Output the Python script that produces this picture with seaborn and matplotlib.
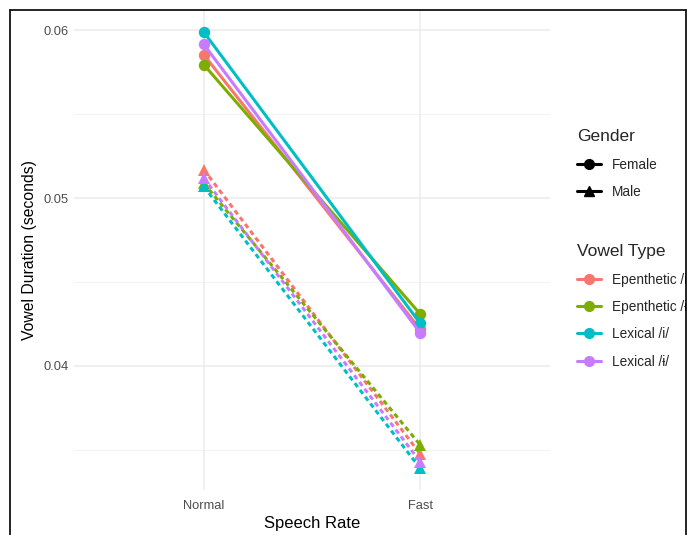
import pandas as pd
import matplotlib.pyplot as plt
import seaborn as sns
from matplotlib.lines import Line2D
from matplotlib.patches import Rectangle

# values
rates = ['Normal', 'Fast']
vowels = ['Epenthetic /i/', 'Epenthetic /ɨ/', 'Lexical /i/', 'Lexical /ɨ/']
genders = ['Female', 'Male']
female_normal = [0.05855, 0.05796, 0.05990, 0.05917]
female_fast = [0.04218, 0.04310, 0.04254, 0.04198]
male_normal = [0.05170, 0.05090, 0.05070, 0.05120]
male_fast = [0.03476, 0.03530, 0.03390, 0.03430]
colors = ['#F8766D', '#7CAE00', '#00BFC4', '#C77CFF']

rows = []
for i, v in enumerate(vowels):
    rows.append(('Normal', v, 'Female', female_normal[i]))
    rows.append(('Fast', v, 'Female', female_fast[i]))
    rows.append(('Normal', v, 'Male', male_normal[i]))
    rows.append(('Fast', v, 'Male', male_fast[i]))
df = pd.DataFrame(rows, columns=['rate', 'vowel', 'gender', 'dur'])

sns.set_theme(style='white')
plt.rcParams['font.family'] = ['Liberation Sans', 'DejaVu Sans']

fig = plt.figure(figsize=(6.9, 5.35), dpi=100)
ax = fig.add_axes([0.107, 0.084, 0.69, 0.897])

sns.lineplot(data=df, x='rate', y='dur', hue='vowel', style='gender',
             hue_order=vowels, style_order=genders, palette=colors,
             markers={'Female': 'o', 'Male': '^'},
             dashes={'Female': '', 'Male': (1.6, 1.2)},
             markersize=8.2, markeredgewidth=0, linewidth=2.2,
             legend=False, ax=ax, sort=False)

ax.set_xlim(-0.6, 1.6)
ax.set_ylim(0.0326, 0.0612)
ax.set_yticks([0.04, 0.05, 0.06])
ax.set_yticklabels(['0.04', '0.05', '0.06'])
ax.set_yticks([0.035, 0.045, 0.055], minor=True)
ax.grid(True, which='major', color='#EBEBEB', linewidth=1.1)
ax.grid(True, which='minor', axis='y', color='#F2F2F2', linewidth=0.7)
ax.set_axisbelow(True)
for s in ax.spines.values():
    s.set_visible(False)
ax.tick_params(axis='both', which='both', length=0, labelsize=9.3,
               labelcolor='#4D4D4D')
ax.tick_params(axis='x', pad=7)
ax.tick_params(axis='y', pad=4)
ax.set_xlabel('Speech Rate', fontsize=12, color='black', labelpad=3)
ax.set_ylabel('Vowel Duration (seconds)', fontsize=11.3, color='black', labelpad=4)

# legends
lfs = 9.8
g_handles = [Line2D([], [], color='black', marker=m, markersize=7, linewidth=2.2)
             for m in ['o', '^']]
leg1 = ax.legend(g_handles, genders, title='Gender', loc='upper left',
                 bbox_to_anchor=(0.836, 0.7585), bbox_transform=fig.transFigure,
                 frameon=False, fontsize=lfs, title_fontsize=12.5,
                 handlelength=1.76, handletextpad=0.8, labelspacing=0.98,
                 borderpad=0, borderaxespad=0)
leg1._legend_box.align = 'left'
ax.add_artist(leg1)

v_handles = [Line2D([], [], color=c, marker='o', markersize=7, linewidth=2.2)
             for c in colors]
leg2 = ax.legend(v_handles, vowels, title='Vowel Type', loc='upper left',
                 bbox_to_anchor=(0.836, 0.5435), bbox_transform=fig.transFigure,
                 frameon=False, fontsize=lfs, title_fontsize=12.5,
                 handlelength=1.76, handletextpad=0.8, labelspacing=0.98,
                 borderpad=0, borderaxespad=0)
leg2._legend_box.align = 'left'

# screenshot frame: clip at the right edge
fig.add_artist(Rectangle((686 / 690, 0), 4 / 690, 1, transform=fig.transFigure,
                         facecolor='white', edgecolor='none', zorder=10))
fig.add_artist(Line2D([10 / 690, 10 / 690], [0, 1 - 10 / 535], color='black',
                      linewidth=1.2, transform=fig.transFigure, zorder=11))
fig.add_artist(Line2D([10 / 690, 686 / 690], [1 - 10 / 535, 1 - 10 / 535],
                      color='black', linewidth=1.2, transform=fig.transFigure, zorder=11))
fig.add_artist(Line2D([686 / 690, 686 / 690], [0, 1 - 10 / 535], color='black',
                      linewidth=1.2, transform=fig.transFigure, zorder=11))

fig.savefig('out.png', dpi=100)
